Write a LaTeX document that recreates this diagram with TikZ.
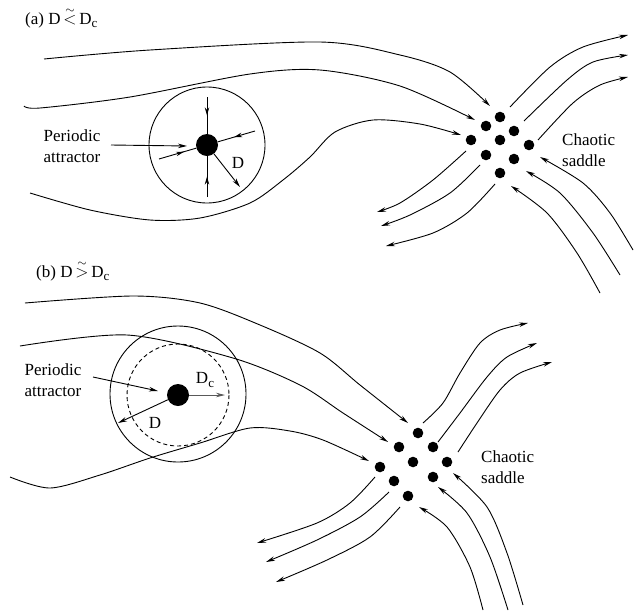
\documentclass[tikz,border=0pt]{standalone}
\usepackage{fontspec}
\setmainfont{Liberation Serif}
\usetikzlibrary{arrows.meta,decorations.markings}

\tikzset{
  strm/.style={line width=0.9pt},
  flow/.style={line width=0.9pt,-{Stealth[length=9pt,width=4.5pt]}},
  midarrow/.style={line width=0.9pt,postaction={decorate},
    decoration={markings,mark=at position #1 with {\arrow{Stealth[length=8pt,width=4.5pt]}}}},
  midarrow/.default=0.5,
  attdot/.style={circle,fill,inner sep=0pt,minimum size=22pt},
  sdot/.style={circle,fill,inner sep=0pt,minimum size=10.6pt},
  lbl/.style={font=\fontsize{17}{21}\selectfont,inner sep=0pt},
}
\newcommand{\subc}{\raisebox{-0.45ex}{\fontsize{13}{13}\selectfont c}}
\newcommand{\tildrel}[1]{\mbox{\ooalign{$#1$\cr\hidewidth\raisebox{1.4ex}{$\scriptstyle\sim$}\hidewidth\cr}}}

\begin{document}
\begin{tikzpicture}[x=1pt,y=-1pt]
\useasboundingbox (0,0) rectangle (634,611);

% ---------- panel (a)
\node[lbl,anchor=base west] (titA) at (25,24) {(a) D\,\tildrel{<}\,D\subc};

\draw[flow] plot[smooth] coordinates {(44,59) (150,50) (320,42) (400,55) (450,72) (490,106)};
\draw[flow] plot[smooth] coordinates {(24,106) (40,108) (130,97) (250,74) (320,70) (400,86) (475,120)};
\draw[flow] plot[smooth] coordinates {(30,193) (90,210) (150,220) (200,218) (250,203) (283,180) (310,157) (335,132) (373,120) (420,124) (461,135)};

\draw[strm] (207,145) circle (58);
\node[attdot] (attA) at (207,145) {};
\draw[midarrow=0.5] (207,97) -- (attA);
\draw[midarrow=0.5] (207,197) -- (attA);
\draw[midarrow=0.67] (159,159) -- (attA);
\draw[midarrow=0.56] (255,131) -- (attA);
\draw[flow] (attA) -- (240,187);
\node[lbl] (dA) at (238,163) {D};

\node[lbl,align=center] (perA) at (72,146) {Periodic\\attractor};
\draw[flow] (111,145) -- (187,146);

\foreach \x/\y [count=\i] in {500/117,486/126,514/131,471/140,500/140,529/145,486/155,514/159,500/173}
  \node[sdot] (sa\i) at (\x,\y) {};

\draw[flow] plot[smooth] coordinates {(510,107) (550,67) (583,47) (628,35)};
\draw[flow] plot[smooth] coordinates {(524,121) (567,80) (593,62) (628,55)};
\draw[flow] plot[smooth] coordinates {(538,140) (573,103) (600,85) (628,77)};

\draw[flow] plot[smooth] coordinates {(466,151) (433,180) (400,203) (377,212)};
\draw[flow] plot[smooth] coordinates {(480,165) (450,193) (410,215) (381,226)};
\draw[flow] plot[smooth] coordinates {(495,184) (467,213) (433,233) (386,246)};

\draw[flow] plot[smooth] coordinates {(633,250) (610,213) (583,183) (540,157)};
\draw[flow] plot[smooth] coordinates {(620,275) (593,233) (560,193) (526,171)};
\draw[flow] plot[smooth] coordinates {(600,293) (577,253) (547,213) (511,186)};

\node[lbl,align=left,anchor=west] (chA) at (562,150) {Chaotic\\saddle};

% ---------- panel (b)
\node[lbl,anchor=base west] (titB) at (36,277) {(b) D\,\tildrel{>}\,D\subc};

\draw[flow] plot[smooth] coordinates {(25,303) (133,296) (200,303) (260,325) (320,353) (360,385) (408,423)};
\draw[flow] plot[smooth] coordinates {(20,346) (127,335) (233,358) (300,385) (343,413) (388,442)};
\draw[flow] plot[smooth] coordinates {(10,477) (50,488) (100,475) (150,458) (200,443) (250,428) (290,431) (323,440) (369,461)};

\draw[strm] (178,394) circle (68);
\draw[strm,dash pattern=on 4pt off 3pt] (178,395) circle (51);
\node[attdot] (attB) at (178,395) {};
\draw[flow,gray!70!black] (attB) -- (225,395);
\node[lbl] (dcB) at (205,380) {D\subc};
\draw[flow] (attB) -- (118,423);
\node[lbl] (dB) at (155,423) {D};

\node[lbl,align=center] (perB) at (53,380) {Periodic\\attractor};
\draw[flow] (93,377) -- (158,391);

\foreach \x/\y [count=\i] in {418/433,399/447,433/447,380/467,413/462,447/462,394/481,433/477,408/496}
  \node[sdot] (sb\i) at (\x,\y) {};

\draw[flow] plot[smooth] coordinates {(423,423) (443,403) (460,373) (480,343) (500,330) (528,323)};
\draw[flow] plot[smooth] coordinates {(438,442) (460,413) (487,377) (507,357) (537,343)};
\draw[flow] plot[smooth] coordinates {(458,452) (477,423) (500,390) (520,373) (552,362)};

\draw[flow] plot[smooth] coordinates {(375,477) (350,503) (317,523) (257,543)};
\draw[flow] plot[smooth] coordinates {(389,492) (360,517) (317,540) (266,562)};
\draw[flow] plot[smooth] coordinates {(400,507) (370,537) (327,560) (276,582)};

\draw[flow] plot[smooth] coordinates {(523,605) (507,553) (487,507) (453,473)};
\draw[flow] plot[smooth] coordinates {(508,610) (490,557) (467,513) (438,487)};
\draw[flow] plot[smooth] coordinates {(483,610) (470,567) (447,527) (419,507)};

\node[lbl,align=left,anchor=west] (chB) at (481,467) {Chaotic\\saddle};
\end{tikzpicture}
\end{document}
